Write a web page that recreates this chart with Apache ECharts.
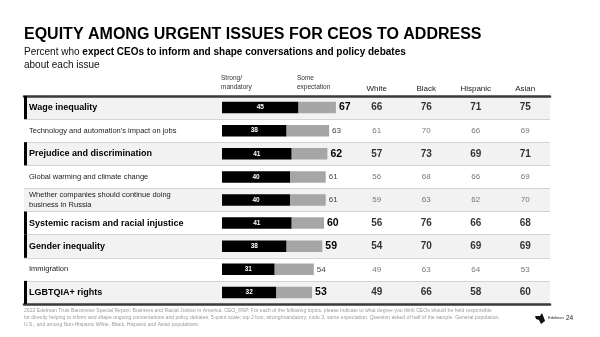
<!DOCTYPE html>
<html>
<head>
<meta charset="utf-8">
<script src="https://cdn.jsdelivr.net/npm/echarts@6/dist/echarts.min.js"></script>
<style>
html,body{margin:0;padding:0;background:#fff;}
#chart{width:600px;height:337px;}
</style>
</head>
<body>
<div id="chart"></div>
<script>
const issues = [
  "Wage inequality",
  "Technology and automation\u2019s impact on jobs",
  "Prejudice and discrimination",
  "Global warming and climate change",
  "Whether companies should continue doing\nbusiness in Russia",
  "Systemic racism and racial injustice",
  "Gender inequality",
  "Immigration",
  "LGBTQIA+ rights"
];
const highlight = [true, false, true, false, false, true, true, false, true];
const strongMandatory = [45, 38, 41, 40, 40, 41, 38, 31, 32];
const totalExpect = [67, 63, 62, 61, 61, 60, 59, 54, 53];
const groups = ["White", "Black", "Hispanic", "Asian"];
const white = [66, 61, 57, 56, 59, 56, 54, 49, 49];
const black = [76, 70, 73, 68, 63, 76, 70, 63, 66];
const hispanic = [71, 66, 69, 66, 62, 66, 69, 64, 58];
const asian = [75, 69, 71, 69, 70, 68, 69, 53, 60];
const groupValues = [white, black, hispanic, asian];

const FONT = "'Liberation Sans', Arial, sans-serif";
const chart = echarts.init(document.getElementById('chart'), null, {renderer: 'canvas'});

const someExpect = totalExpect.map((t, i) => ({
  value: t - strongMandatory[i],
  label: highlight[i]
    ? {fontSize: 10.5, fontWeight: 'bold', color: '#000'}
    : {fontSize: 8, fontWeight: 'normal', color: '#444'}
}));

const tableData = [];
groupValues.forEach((arr, c) => {
  arr.forEach((v, r) => {
    tableData.push({
      value: [c, r, v],
      label: highlight[r]
        ? {fontSize: 10, fontWeight: 'bold', color: '#000'}
        : {fontSize: 8, fontWeight: 'normal', color: '#555'}
    });
  });
});

const footer = "2022 Edelman Trust Barometer Special Report: Business and Racial Justice in America. CEO_RSP. For each of the following topics, please indicate to what degree you think CEOs should be held responsible\nfor directly helping to inform and shape ongoing conversations and policy debates. 5-point scale; top 2 box, strong/mandatory; code 3, some expectation. Question asked of half of the sample. General population,\nU.S., and among Non-Hispanic White, Black, Hispanic and Asian populations.";

const option = {
  animation: false,
  backgroundColor: '#fff',
  textStyle: {fontFamily: FONT},
  title: [
    {text: 'EQUITY AMONG URGENT ISSUES FOR CEOS TO ADDRESS', left: 24, top: 27, padding: 0,
     textStyle: {fontSize: 16, fontWeight: 'bold', color: '#000', fontFamily: FONT}},
    {text: 'Percent who {b|expect CEOs to inform and shape conversations and policy debates}\nabout each issue', left: 24, top: 45.5, padding: 0,
     textStyle: {fontSize: 10, fontWeight: 'normal', color: '#111', lineHeight: 13, fontFamily: FONT,
       rich: {b: {fontSize: 10, fontWeight: 'bold', color: '#000', lineHeight: 13, fontFamily: FONT}}}},
    {text: 'Strong/\nmandatory', left: 221, top: 73.5, padding: 0,
     textStyle: {fontSize: 6.5, color: '#333', lineHeight: 9, fontWeight: 'normal', fontFamily: FONT}},
    {text: 'Some\nexpectation', left: 297, top: 73.5, padding: 0,
     textStyle: {fontSize: 6.5, color: '#333', lineHeight: 9, fontWeight: 'normal', fontFamily: FONT}},
    {text: footer, left: 24, top: 307, padding: 0,
     textStyle: {fontSize: 5.1, color: '#999', lineHeight: 7, fontWeight: 'normal', fontFamily: FONT}},
    {text: 'Edelman  {n|24}', left: 548, top: 314, padding: 0,
     textStyle: {fontSize: 4, color: '#222', fontWeight: 'normal', lineHeight: 8, fontFamily: FONT,
       rich: {n: {fontSize: 6.5, color: '#222', lineHeight: 8, fontFamily: FONT}}}}
  ],
  graphic: [
    {type: 'polygon', shape: {points: [[535,316],[540,316],[542,313],[544,318],[545,321],[541,324],[539,320],[536,319]]},
     style: {fill: '#111'}}
  ],
  grid: [
    {left: 24, right: 50, top: 96, bottom: 33},
    {left: 222, right: 208, top: 96, bottom: 33},
    {left: 352, right: 50, top: 96, bottom: 33}
  ],
  xAxis: [
    {gridIndex: 0, type: 'value', min: 0, max: 526, position: 'top',
     axisLine: {show: true, onZero: false, lineStyle: {color: '#3a3a3a', width: 2.5}},
     axisTick: {show: false}, axisLabel: {show: false}, splitLine: {show: false}},
    {gridIndex: 0, type: 'value', min: 0, max: 526, position: 'bottom',
     axisLine: {show: true, onZero: false, lineStyle: {color: '#3a3a3a', width: 2.5}},
     axisTick: {show: false}, axisLabel: {show: false}, splitLine: {show: false}},
    {gridIndex: 1, type: 'value', min: 0, max: 100, show: false},
    {gridIndex: 2, type: 'category', data: groups, position: 'top',
     axisLine: {show: false}, axisTick: {show: false},
     axisLabel: {show: true, margin: 3, fontSize: 8, color: '#222', fontFamily: FONT}}
  ],
  yAxis: [
    {gridIndex: 0, type: 'category', data: issues, inverse: true,
     axisLine: {show: false}, axisTick: {show: false},
     splitLine: {show: true, lineStyle: {color: '#d4d4d4', width: 1}},
     splitArea: {show: true, areaStyle: {color: ['#f2f2f2', '#ffffff']}},
     axisLabel: {show: true, inside: true, margin: 5, fontFamily: FONT,
       formatter: (v, i) => highlight[i] ? '{b|' + v + '}' : '{n|' + v + '}',
       rich: {
         b: {fontSize: 9, fontWeight: 'bold', color: '#000', fontFamily: FONT},
         n: {fontSize: 7.5, color: '#222', lineHeight: 9.5, fontFamily: FONT}
       }}},
    {gridIndex: 1, type: 'category', data: issues, inverse: true, show: false},
    {gridIndex: 2, type: 'category', data: issues, inverse: true, show: false}
  ],
  series: [
    {type: 'bar', name: 'accent', xAxisIndex: 0, yAxisIndex: 0, barWidth: '100%',
     data: highlight.map(h => h ? 3 : 0), itemStyle: {color: '#000'}, silent: true},
    {type: 'bar', name: 'Strong/mandatory', xAxisIndex: 2, yAxisIndex: 1, stack: 'e', barWidth: 11.5,
     data: strongMandatory, itemStyle: {color: '#000'},
     label: {show: true, position: 'inside', color: '#fff', fontSize: 6.5, fontWeight: 'bold', fontFamily: FONT}},
    {type: 'bar', name: 'Some expectation', xAxisIndex: 2, yAxisIndex: 1, stack: 'e', barWidth: 11.5,
     data: someExpect, itemStyle: {color: '#a6a6a6'},
     label: {show: true, position: 'right', distance: 3, fontFamily: FONT,
       formatter: p => String(totalExpect[p.dataIndex])}},
    {type: 'scatter', name: 'groups', xAxisIndex: 3, yAxisIndex: 2, symbolSize: 1,
     itemStyle: {color: 'rgba(0,0,0,0)'}, data: tableData,
     label: {show: true, position: 'inside', fontFamily: FONT, formatter: p => String(p.value[2])}}
  ]
};
chart.setOption(option);
</script>
</body>
</html>
